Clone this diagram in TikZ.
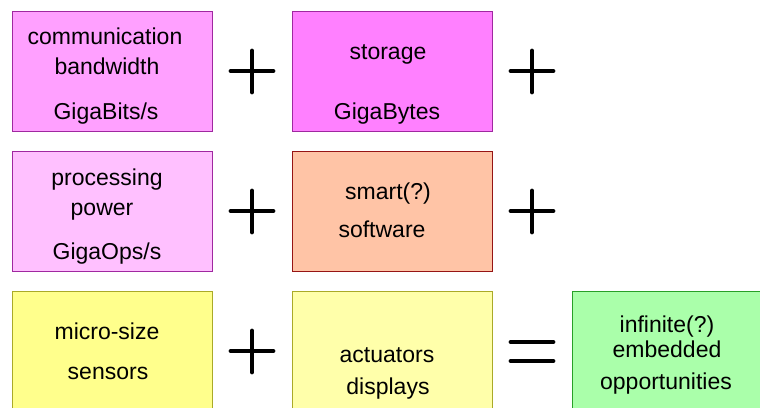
\documentclass[tikz,border=0pt]{standalone}
\usepackage{fontspec}
\setmainfont{Liberation Sans}
\usepackage{xcolor}
\usetikzlibrary{positioning}

\definecolor{commfill}{RGB}{255,160,255}
\definecolor{storfill}{RGB}{255,128,255}
\definecolor{procfill}{RGB}{255,192,255}
\definecolor{softfill}{RGB}{255,196,166}
\definecolor{sensfill}{RGB}{255,255,140}
\definecolor{actfill}{RGB}{255,255,170}
\definecolor{oppfill}{RGB}{170,255,170}
\definecolor{pinkline}{RGB}{160,40,160}
\definecolor{redline}{RGB}{150,20,20}
\definecolor{oliveline}{RGB}{170,170,40}
\definecolor{greenline}{RGB}{40,160,40}

\begin{document}
\begin{tikzpicture}[x=0.5pt, y=-0.5pt, box/.style={draw, line width=0.5pt, minimum width=100pt, minimum height=60pt, inner sep=0pt}, txt/.style={anchor=base, inner sep=0pt, font=\fontsize{11.5}{14}\selectfont}, op/.style={line width=2.4pt, line cap=round}]
	\useasboundingbox (0,0) rectangle (760,407);

	% boxes
	\node[box, fill=commfill, draw=pinkline]	(comm)	at (112,71)	{};
	\node[box, fill=storfill, draw=pinkline]	(stor)	at (392,71)	{};
	\node[box, fill=procfill, draw=pinkline]	(proc)	at (112,211)	{};
	\node[box, fill=softfill, draw=redline]	(soft)	at (392,211)	{};
	\node[box, fill=sensfill, draw=oliveline, minimum height=70pt]	(sens)	at (112,361)	{};
	\node[box, fill=actfill, draw=oliveline, minimum height=70pt]	(act)	at (392,361)	{};
	\node[box, fill=oppfill, draw=greenline, minimum width=95pt, minimum height=70pt]	(opp)	at (667,361)	{};

	% texts
	\node[txt]	(comm1)	at (105,44)	{communication};
	\node[txt]	(comm2)	at (107,74)	{bandwidth};
	\node[txt]	(comm3)	at (106,119)	{GigaBits/s};
	\node[txt]	(stor1)	at (388,59)	{storage};
	\node[txt]	(stor2)	at (387,119)	{GigaBytes};
	\node[txt]	(proc1)	at (107,185)	{processing};
	\node[txt]	(proc2)	at (102,215)	{power};
	\node[txt]	(proc3)	at (107,259)	{GigaOps/s};
	\node[txt]	(soft1)	at (388,199)	{smart(?)};
	\node[txt]	(soft2)	at (382,237)	{software};
	\node[txt]	(sens1)	at (107,339)	{micro-size};
	\node[txt]	(sens2)	at (108,379)	{sensors};
	\node[txt]	(act1)	at (387,362)	{actuators};
	\node[txt]	(act2)	at (388,394)	{displays};
	\node[txt]	(opp1)	at (667,332)	{infinite(?)};
	\node[txt]	(opp2)	at (667,357)	{embedded};
	\node[txt]	(opp3)	at (666,389)	{opportunities};

	% plus and equals signs
	\foreach \px/\py in {252/71, 532/71, 252/211, 532/211, 252/351}
		\draw[op] (\px-21,\py) -- (\px+21,\py) (\px,\py-20) -- (\px,\py+21);
	\draw[op] (511,342) -- (553,342) (511,361) -- (553,361);
\end{tikzpicture}
\end{document}
